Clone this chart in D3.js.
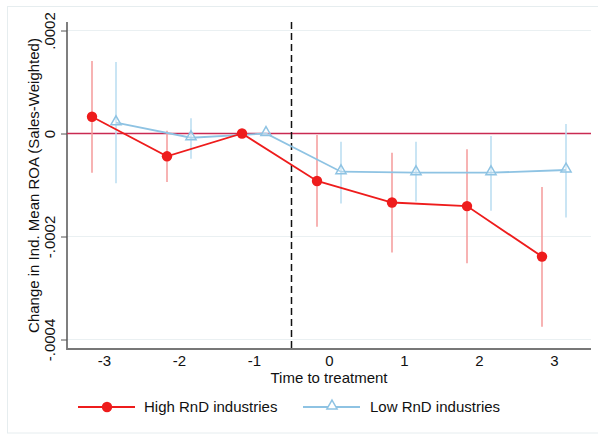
<!DOCTYPE html>
<html><head><meta charset="utf-8">
<script src="https://cdn.jsdelivr.net/npm/d3@7"></script>
<style>body{margin:0;background:#fff;}svg{display:block;font-family:"Liberation Sans",Arial,sans-serif;}</style>
</head><body>
<script>
const periods = [-3, -2, -1, 0, 1, 2, 3];
const highEst = [0.0000326, -0.0000443, 0, -0.0000922, -0.000134, -0.000141, -0.000239];
const highLo  = [-0.0000761, -0.0000942, 0, -0.000181, -0.000231, -0.000252, -0.000375];
const highHi  = [0.000141, 0.0000054, 0, -0.000003, -0.0000373, -0.0000307, -0.000104];
const lowEst  = [0.000021, -0.0000082, 0, -0.0000742, -0.0000761, -0.0000761, -0.0000709];
const lowLo   = [-0.0000967, -0.000049, 0, -0.000136, -0.000132, -0.00015, -0.000163];
const lowHi   = [0.000139, 0.0000295, 0, -0.0000159, -0.0000159, -0.0000049, 0.0000184];
const yTicks = [0.0002, 0, -0.0002, -0.0004];
const yTickLabels = [".0002", "0", "-.0002", "-.0004"];
const xTicks = [-3, -2, -1, 0, 1, 2, 3];
const seriesNames = ["High RnD industries", "Low RnD industries"];
const treatLine = -0.5;
const offset = 0.16;

const W = 598, H = 437, FS = 15;
const svg = d3.select("body").append("svg").attr("width", W).attr("height", H);

// outer frame
svg.append("rect").attr("x", 7.5).attr("y", 6.5).attr("width", 600).attr("height", 426.5)
  .attr("fill", "none").attr("stroke", "#e6edef").attr("stroke-width", 1);

const pLeft = 67, pRight = 591, pTop = 22, pBottom = 349;
const x = d3.scaleLinear().domain([-3, 3]).range([104, 554]);
const y = d3.scaleLinear().domain([0.0002, -0.0004]).range([30.5, 339.5]);

// gridlines
svg.append("g").selectAll("line").data(yTicks).join("line")
  .attr("x1", pLeft).attr("x2", pRight)
  .attr("y1", d => y(d)).attr("y2", d => y(d))
  .attr("stroke", "#eaf0f2").attr("stroke-width", 1);

// y axis
const yAxis = svg.append("g").attr("transform", `translate(${pLeft},0)`)
  .call(d3.axisLeft(y).tickValues(yTicks).tickSize(6).tickFormat((d, i) => yTickLabels[i]));
yAxis.select(".domain").remove();
yAxis.selectAll(".tick line").attr("stroke", "#555");
yAxis.selectAll(".tick text")
  .attr("font-size", FS).attr("fill", "#111")
  .attr("text-anchor", "middle")
  .attr("x", null).attr("dy", null)
  .attr("transform", "translate(-12,0) rotate(-90)");
svg.append("line").attr("x1", pLeft).attr("x2", pLeft).attr("y1", pTop).attr("y2", pBottom + 1)
  .attr("stroke", "#555").attr("stroke-width", 1.5);

// x axis
const xAxis = svg.append("g").attr("transform", `translate(0,${pBottom})`)
  .call(d3.axisBottom(x).tickValues(xTicks).tickSize(0).tickFormat(d3.format("d")));
xAxis.select(".domain").remove();
xAxis.selectAll(".tick text").attr("font-size", FS).attr("fill", "#111")
  .attr("dy", null).attr("y", 17)
  .text(d => d < 0 ? "-" + Math.abs(d) : d);
svg.append("line").attr("x1", pLeft).attr("x2", pRight).attr("y1", pBottom).attr("y2", pBottom)
  .attr("stroke", "#777").attr("stroke-width", 2);

// axis titles
svg.append("text").attr("x", x(0)).attr("y", 383).attr("text-anchor", "middle")
  .attr("font-size", FS).attr("fill", "#111").text("Time to treatment");
svg.append("text").attr("transform", `translate(39,${(pTop + pBottom) / 2}) rotate(-90)`)
  .attr("text-anchor", "middle").attr("font-size", FS).attr("fill", "#111")
  .text("Change in Ind. Mean ROA (Sales-Weighted)");

// zero line
svg.append("line").attr("x1", pLeft).attr("x2", pRight).attr("y1", y(0)).attr("y2", y(0))
  .attr("stroke", "#c92a52").attr("stroke-width", 1.5);

// treatment line
svg.append("line").attr("x1", x(treatLine)).attr("x2", x(treatLine)).attr("y1", pTop).attr("y2", pBottom)
  .attr("stroke", "#111").attr("stroke-width", 1.5).attr("stroke-dasharray", "7,4");

const redC = "#ee1c1c", redCI = "#f59a9a", blueC = "#8ec3e3", blueCI = "#b9dcf0";
const highData = periods.map((p, i) => ({x: p - offset, e: highEst[i], lo: highLo[i], hi: highHi[i]}));
const lowData = periods.map((p, i) => ({x: p + offset, e: lowEst[i], lo: lowLo[i], hi: lowHi[i]}));

// CIs
svg.append("g").selectAll("line").data(highData.filter(d => d.lo !== d.hi)).join("line")
  .attr("x1", d => x(d.x)).attr("x2", d => x(d.x)).attr("y1", d => y(d.lo)).attr("y2", d => y(d.hi))
  .attr("stroke", redCI).attr("stroke-width", 1.5);
svg.append("g").selectAll("line").data(lowData.filter(d => d.lo !== d.hi)).join("line")
  .attr("x1", d => x(d.x)).attr("x2", d => x(d.x)).attr("y1", d => y(d.lo)).attr("y2", d => y(d.hi))
  .attr("stroke", blueCI).attr("stroke-width", 1.5);

const line = d3.line().x(d => x(d.x)).y(d => y(d.e));
svg.append("path").datum(lowData).attr("d", line).attr("fill", "none").attr("stroke", blueC).attr("stroke-width", 1.8);
svg.append("path").datum(highData).attr("d", line).attr("fill", "none").attr("stroke", redC).attr("stroke-width", 1.8);

const tri = d3.symbol().type(d3.symbolTriangle).size(45);
svg.append("g").selectAll("path").data(lowData).join("path")
  .attr("transform", d => `translate(${x(d.x)},${y(d.e) - 1})`).attr("d", tri)
  .attr("fill", "#fff").attr("fill-opacity", 0.3).attr("stroke", blueC).attr("stroke-width", 1.5);
svg.append("g").selectAll("circle").data(highData).join("circle")
  .attr("cx", d => x(d.x)).attr("cy", d => y(d.e)).attr("r", 5.2).attr("fill", redC);

// legend
const lg = svg.append("g");
const ly = 407;
lg.append("line").attr("x1", 78).attr("x2", 135).attr("y1", ly).attr("y2", ly).attr("stroke", redC).attr("stroke-width", 1.8);
lg.append("circle").attr("cx", 107).attr("cy", ly).attr("r", 5.2).attr("fill", redC);
lg.append("text").attr("x", 144).attr("y", ly + 5).attr("font-size", FS).attr("fill", "#111").text(seriesNames[0]);
lg.append("line").attr("x1", 303).attr("x2", 360).attr("y1", ly).attr("y2", ly).attr("stroke", blueC).attr("stroke-width", 1.8);
lg.append("path").attr("transform", `translate(332,${ly - 1})`).attr("d", tri)
  .attr("fill", "#fff").attr("stroke", blueC).attr("stroke-width", 1.5);
lg.append("text").attr("x", 370).attr("y", ly + 5).attr("font-size", FS).attr("fill", "#111").text(seriesNames[1]);
</script>
</body></html>
